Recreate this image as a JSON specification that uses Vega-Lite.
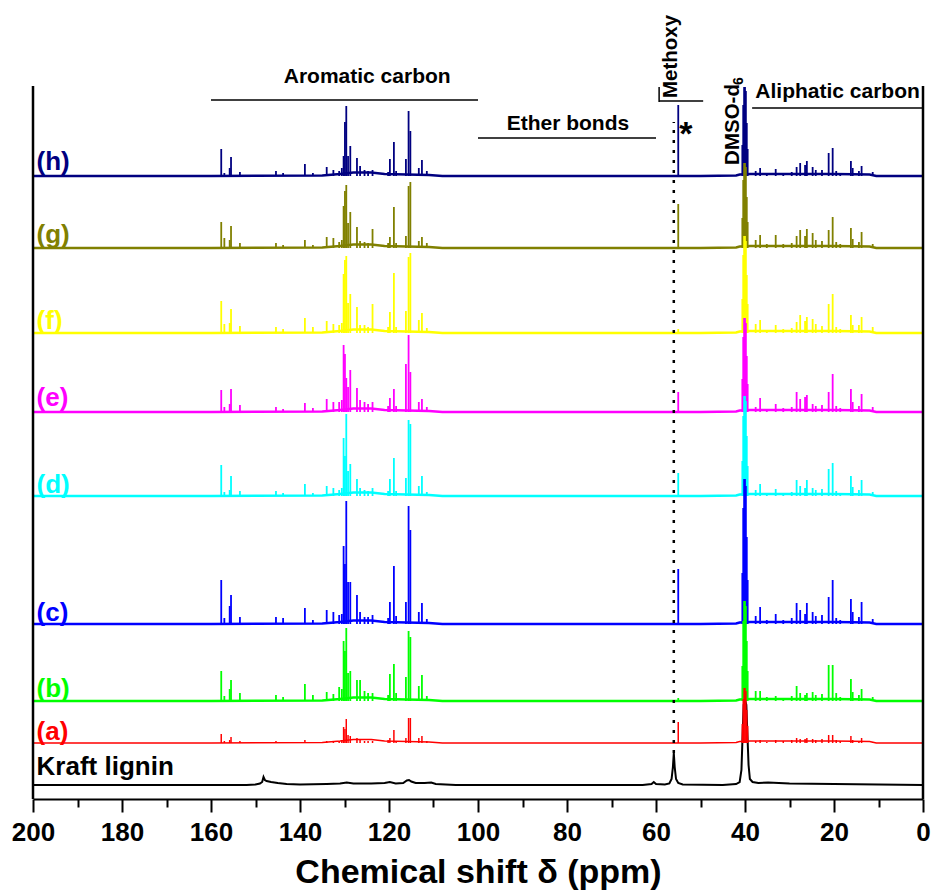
{
"$schema":"https://vega.github.io/schema/vega-lite/v6.json",
"width":890,"height":794,"autosize":"none",
"padding":{"left":33,"top":5,"right":15,"bottom":97},
"config":{"view":{"stroke":null},"font":"Liberation Sans"},
"datasets":{
"bl":[{"x":200,"i":0},{"x":160,"i":0},{"x":135,"i":0.5},{"x":131,"i":2},{"x":128,"i":3.5},{"x":124,"i":3.5},{"x":121,"i":2},{"x":116,"i":1.5},{"x":111,"i":1},{"x":108,"i":0},{"x":50,"i":0},{"x":42,"i":0.5},{"x":41.2,"i":1.5},{"x":38.8,"i":2},{"x":30,"i":2},{"x":20,"i":2},{"x":12,"i":1.5},{"x":10.5,"i":0},{"x":0,"i":0}],
"kr":[{"x":200,"i":0},{"x":152,"i":0},{"x":150,"i":0.5},{"x":149,"i":1.5},{"x":148.5,"i":3},{"x":148.2,"i":8},{"x":147.9,"i":5},{"x":147.5,"i":4},{"x":146.5,"i":3},{"x":145,"i":2},{"x":143,"i":1},{"x":140,"i":0.5},{"x":134,"i":1},{"x":131,"i":1.5},{"x":129.5,"i":2.5},{"x":128,"i":1.5},{"x":124,"i":1.5},{"x":121,"i":2},{"x":119.8,"i":3},{"x":118.5,"i":1.5},{"x":116.8,"i":2},{"x":116,"i":4.5},{"x":115.5,"i":5},{"x":115,"i":3.5},{"x":114,"i":2},{"x":112,"i":2},{"x":110.5,"i":2.5},{"x":109.5,"i":1},{"x":105,"i":0},{"x":63,"i":0},{"x":61,"i":1},{"x":60.5,"i":3},{"x":60,"i":1},{"x":58,"i":0.5},{"x":57,"i":1.5},{"x":56.5,"i":6},{"x":56.2,"i":18},{"x":56.0,"i":32},{"x":55.8,"i":18},{"x":55.5,"i":6},{"x":55,"i":2},{"x":54,"i":0.5},{"x":45,"i":0},{"x":42,"i":1},{"x":41.2,"i":3},{"x":40.8,"i":15},{"x":40.5,"i":55},{"x":40.3,"i":80},{"x":40.0,"i":85},{"x":39.7,"i":80},{"x":39.5,"i":55},{"x":39.2,"i":20},{"x":38.9,"i":6},{"x":38.3,"i":3},{"x":37,"i":2},{"x":34.8,"i":2.5},{"x":30,"i":1.5},{"x":20,"i":1},{"x":10,"i":0.5},{"x":0,"i":0}],
"pk":[
{"x":157.7,"h":27,"g":26,"f":32,"e":22,"d":31,"c":44,"b":30,"a":9},
{"x":157.0,"h":3,"g":10,"f":9,"e":5,"d":4,"c":6,"b":5,"a":2},
{"x":155.8,"h":8,"g":8,"f":10,"e":8,"d":6,"c":18,"b":12,"a":3},
{"x":155.5,"h":19,"g":22,"f":24,"e":23,"d":20,"c":29,"b":21,"a":6},
{"x":153.5,"h":4,"g":5,"f":7,"e":7,"d":5,"c":7,"b":8,"a":2},
{"x":145.4,"h":5,"g":5,"f":6,"e":5,"d":5,"c":7,"b":6,"a":2},
{"x":143.8,"h":3,"g":3,"f":4,"e":3,"d":3,"c":6,"b":4,"a":1},
{"x":138.9,"h":12,"g":8,"f":15,"e":9,"d":12,"c":16,"b":17,"a":3},
{"x":137.1,"h":3,"g":3,"f":6,"e":4,"d":3,"c":4,"b":6,"a":1},
{"x":134.0,"h":9,"g":11,"f":12,"e":13,"d":10,"c":14,"b":9,"a":2},
{"x":132.5,"h":6,"g":10,"f":9,"e":10,"d":8,"c":12,"b":7,"a":2},
{"x":131.2,"h":5,"g":6,"f":8,"e":10,"d":6,"c":9,"b":14,"a":2},
{"x":130.6,"h":8,"g":8,"f":10,"e":12,"d":8,"c":10,"b":12,"a":3},
{"x":130.2,"h":20,"g":42,"f":59,"e":67,"d":58,"c":78,"b":60,"a":16},
{"x":129.9,"h":54,"g":57,"f":73,"e":58,"d":40,"c":60,"b":50,"a":14},
{"x":129.6,"h":70,"g":63,"f":77,"e":34,"d":82,"c":123,"b":73,"a":24},
{"x":129.2,"h":20,"g":25,"f":30,"e":25,"d":25,"c":42,"b":28,"a":8},
{"x":128.7,"h":30,"g":36,"f":39,"e":42,"d":32,"c":42,"b":30,"a":7},
{"x":127.2,"h":18,"g":21,"f":26,"e":24,"d":17,"c":29,"b":21,"a":5},
{"x":126.5,"h":10,"g":7,"f":8,"e":12,"d":8,"c":12,"b":21,"a":3},
{"x":125.5,"h":6,"g":6,"f":8,"e":10,"d":6,"c":7,"b":10,"a":2},
{"x":124.7,"h":5,"g":5,"f":6,"e":8,"d":5,"c":7,"b":8,"a":2},
{"x":123.7,"h":6,"g":19,"f":29,"e":10,"d":8,"c":9,"b":8,"a":2},
{"x":120.2,"h":4,"g":5,"f":6,"e":6,"d":5,"c":6,"b":6,"a":3},
{"x":119.8,"h":17,"g":11,"f":21,"e":14,"d":17,"c":22,"b":27,"a":5},
{"x":118.9,"h":34,"g":41,"f":60,"e":23,"d":38,"c":58,"b":37,"a":13},
{"x":118.4,"h":5,"g":5,"f":6,"e":6,"d":5,"c":8,"b":8,"a":2},
{"x":116.2,"h":17,"g":12,"f":22,"e":48,"d":18,"c":22,"b":24,"a":5},
{"x":115.6,"h":65,"g":62,"f":76,"e":77,"d":76,"c":118,"b":70,"a":25},
{"x":115.2,"h":45,"g":66,"f":80,"e":40,"d":72,"c":94,"b":64,"a":25},
{"x":113.3,"h":8,"g":7,"f":13,"e":10,"d":10,"c":12,"b":15,"a":5},
{"x":112.6,"h":16,"g":11,"f":20,"e":13,"d":20,"c":21,"b":26,"a":7},
{"x":111.5,"h":5,"g":5,"f":5,"e":5,"d":4,"c":5,"b":5,"a":2},
{"x":55.0,"h":71,"g":44,"f":4,"e":20,"d":23,"c":55,"b":3,"a":21},
{"x":37.6,"h":5,"g":8,"f":9,"e":5,"d":6,"c":8,"b":10,"a":2},
{"x":36.6,"h":8,"g":13,"f":13,"e":14,"d":12,"c":17,"b":10,"a":3},
{"x":35.1,"h":3,"g":4,"f":3,"e":3,"d":3,"c":4,"b":4,"a":1},
{"x":33.1,"h":7,"g":13,"f":8,"e":8,"d":7,"c":10,"b":5,"a":3},
{"x":31.4,"h":3,"g":4,"f":4,"e":4,"d":3,"c":4,"b":3,"a":2},
{"x":29.5,"h":4,"g":5,"f":5,"e":5,"d":4,"c":6,"b":5,"a":3},
{"x":28.4,"h":9,"g":12,"f":11,"e":20,"d":16,"c":21,"b":15,"a":5},
{"x":27.6,"h":13,"g":18,"f":18,"e":13,"d":10,"c":14,"b":8,"a":4},
{"x":26.5,"h":11,"g":12,"f":12,"e":15,"d":8,"c":10,"b":6,"a":4},
{"x":26.1,"h":15,"g":19,"f":16,"e":17,"d":16,"c":21,"b":8,"a":5},
{"x":24.8,"h":9,"g":15,"f":14,"e":8,"d":8,"c":12,"b":9,"a":4},
{"x":24.1,"h":6,"g":8,"f":9,"e":6,"d":6,"c":8,"b":6,"a":3},
{"x":22.7,"h":6,"g":7,"f":7,"e":7,"d":7,"c":9,"b":7,"a":4},
{"x":21.2,"h":23,"g":18,"f":29,"e":20,"d":27,"c":27,"b":36,"a":8},
{"x":20.3,"h":28,"g":31,"f":39,"e":38,"d":33,"c":44,"b":36,"a":8},
{"x":19.5,"h":5,"g":6,"f":6,"e":6,"d":5,"c":6,"b":8,"a":3},
{"x":18.6,"h":3,"g":4,"f":4,"e":4,"d":3,"c":4,"b":4,"a":2},
{"x":16.2,"h":15,"g":20,"f":18,"e":23,"d":20,"c":25,"b":22,"a":7},
{"x":15.8,"h":8,"g":9,"f":8,"e":10,"d":9,"c":12,"b":9,"a":3},
{"x":14.4,"h":5,"g":6,"f":8,"e":6,"d":6,"c":7,"b":6,"a":2},
{"x":13.8,"h":10,"g":16,"f":16,"e":18,"d":16,"c":22,"b":12,"a":5},
{"x":11.3,"h":4,"g":4,"f":6,"e":5,"d":4,"c":5,"b":4,"a":1},
{"x":40.6,"h":31,"g":30,"f":34,"e":33,"d":35,"c":51,"b":35,"a":19},
{"x":40.4,"h":71,"g":68,"f":78,"e":75,"d":80,"c":116,"b":80,"a":44},
{"x":40.2,"h":89,"g":85,"f":97,"e":94,"d":100,"c":145,"b":100,"a":55},
{"x":40.0,"h":89,"g":85,"f":97,"e":94,"d":100,"c":145,"b":100,"a":55},
{"x":39.8,"h":85,"g":81,"f":92,"e":89,"d":95,"c":138,"b":95,"a":52},
{"x":39.6,"h":53,"g":51,"f":58,"e":56,"d":60,"c":87,"b":60,"a":33},
{"x":39.4,"h":27,"g":26,"f":29,"e":28,"d":30,"c":44,"b":30,"a":17}],
"lab":[{"s":"h","t":"(h)","x":199.2,"y":629},{"s":"g","t":"(g)","x":199.2,"y":556},{"s":"f","t":"(f)","x":199.2,"y":470},{"s":"e","t":"(e)","x":199.2,"y":393},{"s":"d","t":"(d)","x":199.2,"y":306},{"s":"c","t":"(c)","x":199.2,"y":178},{"s":"b","t":"(b)","x":199.2,"y":102},{"s":"a","t":"(a)","x":199.2,"y":59},{"s":"K","t":"Kraft lignin","x":199.2,"y":24}],
"ann":[{"t":"Aromatic carbon","x":124.9,"y":716},{"t":"Ether bonds","x":79.8,"y":669},{"t":"Aliphatic carbon","x":19.2,"y":701}],
"rot":[{"t":"Methoxy","x":55.3,"y":742.5},{"t":"DMSO-d","x":41.4,"y":674.5}],
"sub":[{"t":"6","x":40.45,"y":718}],
"star":[{"t":"*","x":53.3,"y":654}],
"seg":[{"x":160,"x2":100,"y":699,"y2":699},{"x":100,"x2":60,"y":661,"y2":661},{"x":59.3,"x2":49.4,"y":698,"y2":698},{"x":59.3,"x2":59.3,"y":697,"y2":712},{"x":38.4,"x2":0,"y":691,"y2":691}],
"frame":[{"x":200,"x2":200,"y":0,"y2":713},{"x":0,"x2":0,"y":0,"y2":713}],
"dot":[{"x":56,"x2":56,"y":46,"y2":677}]
},
"layer":[
{"layer":[
{"data":{"name":"bl"},"mark":{"type":"line","strokeWidth":2.5},"encoding":{
"x":{"field":"x","type":"quantitative","scale":{"domain":[0,200],"reverse":true,"nice":false,"zero":false},
"axis":{"values":[0,10,20,30,40,50,60,70,80,90,100,110,120,130,140,150,160,170,180,190,200],"labelExpr":"datum.value % 20 === 0 ? datum.label : ''","tickSize":{"condition":{"test":"datum.value % 20 === 0","value":13},"value":8},"tickWidth":2,"tickColor":"black","domainColor":"black","domainWidth":2,"labelFont":"Liberation Sans","labelFontSize":26,"labelFontWeight":"bold","labelColor":"black","labelPadding":7,"labelFlush":false,"labelOverlap":false,"grid":false,"title":"Chemical shift δ (ppm)","titleFont":"Liberation Sans","titleFontSize":34,"titleFontWeight":"bold","titleColor":"black","titlePadding":10}},
"y":{"field":"i","type":"quantitative","scale":{"domain":[-623,171],"nice":false,"zero":false},"axis":null},
"color":{"datum":"h","type":"nominal","scale":{"domain":["h","g","f","e","d","c","b","a","K"],"range":["#000080","#808000","#FFFF00","#FF00FF","#00FFFF","#0000FF","#00FF00","#FF0000","#000000"]},"legend":null}}},
{"data":{"name":"pk"},"mark":{"type":"rule","strokeWidth":1.8},"encoding":{
"x":{"field":"x","type":"quantitative","scale":{"domain":[0,200],"reverse":true,"nice":false,"zero":false}},
"y":{"field":"h","type":"quantitative","scale":{"domain":[-623,171],"nice":false,"zero":false},"axis":null},"y2":{"datum":0},
"color":{"datum":"h","type":"nominal","legend":null}}}]},
{"layer":[
{"data":{"name":"bl"},"mark":{"type":"line","strokeWidth":2.5},"encoding":{
"x":{"field":"x","type":"quantitative","scale":{"domain":[0,200],"reverse":true,"nice":false,"zero":false}},
"y":{"field":"i","type":"quantitative","scale":{"domain":[-551,243],"nice":false,"zero":false},"axis":null},
"color":{"datum":"g","type":"nominal","legend":null}}},
{"data":{"name":"pk"},"mark":{"type":"rule","strokeWidth":1.8},"encoding":{
"x":{"field":"x","type":"quantitative","scale":{"domain":[0,200],"reverse":true,"nice":false,"zero":false}},
"y":{"field":"g","type":"quantitative","scale":{"domain":[-551,243],"nice":false,"zero":false},"axis":null},"y2":{"datum":0},
"color":{"datum":"g","type":"nominal","legend":null}}}]},
{"layer":[
{"data":{"name":"bl"},"mark":{"type":"line","strokeWidth":2.5},"encoding":{
"x":{"field":"x","type":"quantitative","scale":{"domain":[0,200],"reverse":true,"nice":false,"zero":false}},
"y":{"field":"i","type":"quantitative","scale":{"domain":[-466,328],"nice":false,"zero":false},"axis":null},
"color":{"datum":"f","type":"nominal","legend":null}}},
{"data":{"name":"pk"},"mark":{"type":"rule","strokeWidth":1.8},"encoding":{
"x":{"field":"x","type":"quantitative","scale":{"domain":[0,200],"reverse":true,"nice":false,"zero":false}},
"y":{"field":"f","type":"quantitative","scale":{"domain":[-466,328],"nice":false,"zero":false},"axis":null},"y2":{"datum":0},
"color":{"datum":"f","type":"nominal","legend":null}}}]},
{"layer":[
{"data":{"name":"bl"},"mark":{"type":"line","strokeWidth":2.5},"encoding":{
"x":{"field":"x","type":"quantitative","scale":{"domain":[0,200],"reverse":true,"nice":false,"zero":false}},
"y":{"field":"i","type":"quantitative","scale":{"domain":[-387,407],"nice":false,"zero":false},"axis":null},
"color":{"datum":"e","type":"nominal","legend":null}}},
{"data":{"name":"pk"},"mark":{"type":"rule","strokeWidth":1.8},"encoding":{
"x":{"field":"x","type":"quantitative","scale":{"domain":[0,200],"reverse":true,"nice":false,"zero":false}},
"y":{"field":"e","type":"quantitative","scale":{"domain":[-387,407],"nice":false,"zero":false},"axis":null},"y2":{"datum":0},
"color":{"datum":"e","type":"nominal","legend":null}}}]},
{"layer":[
{"data":{"name":"bl"},"mark":{"type":"line","strokeWidth":2.5},"encoding":{
"x":{"field":"x","type":"quantitative","scale":{"domain":[0,200],"reverse":true,"nice":false,"zero":false}},
"y":{"field":"i","type":"quantitative","scale":{"domain":[-303,491],"nice":false,"zero":false},"axis":null},
"color":{"datum":"d","type":"nominal","legend":null}}},
{"data":{"name":"pk"},"mark":{"type":"rule","strokeWidth":1.8},"encoding":{
"x":{"field":"x","type":"quantitative","scale":{"domain":[0,200],"reverse":true,"nice":false,"zero":false}},
"y":{"field":"d","type":"quantitative","scale":{"domain":[-303,491],"nice":false,"zero":false},"axis":null},"y2":{"datum":0},
"color":{"datum":"d","type":"nominal","legend":null}}}]},
{"layer":[
{"data":{"name":"bl"},"mark":{"type":"line","strokeWidth":2.5},"encoding":{
"x":{"field":"x","type":"quantitative","scale":{"domain":[0,200],"reverse":true,"nice":false,"zero":false}},
"y":{"field":"i","type":"quantitative","scale":{"domain":[-175,619],"nice":false,"zero":false},"axis":null},
"color":{"datum":"c","type":"nominal","legend":null}}},
{"data":{"name":"pk"},"mark":{"type":"rule","strokeWidth":1.8},"encoding":{
"x":{"field":"x","type":"quantitative","scale":{"domain":[0,200],"reverse":true,"nice":false,"zero":false}},
"y":{"field":"c","type":"quantitative","scale":{"domain":[-175,619],"nice":false,"zero":false},"axis":null},"y2":{"datum":0},
"color":{"datum":"c","type":"nominal","legend":null}}}]},
{"layer":[
{"data":{"name":"bl"},"mark":{"type":"line","strokeWidth":2.5},"encoding":{
"x":{"field":"x","type":"quantitative","scale":{"domain":[0,200],"reverse":true,"nice":false,"zero":false}},
"y":{"field":"i","type":"quantitative","scale":{"domain":[-98,696],"nice":false,"zero":false},"axis":null},
"color":{"datum":"b","type":"nominal","legend":null}}},
{"data":{"name":"pk"},"mark":{"type":"rule","strokeWidth":1.8},"encoding":{
"x":{"field":"x","type":"quantitative","scale":{"domain":[0,200],"reverse":true,"nice":false,"zero":false}},
"y":{"field":"b","type":"quantitative","scale":{"domain":[-98,696],"nice":false,"zero":false},"axis":null},"y2":{"datum":0},
"color":{"datum":"b","type":"nominal","legend":null}}}]},
{"data":{"name":"kr"},"mark":{"type":"line","strokeWidth":2},"encoding":{
"x":{"field":"x","type":"quantitative","scale":{"domain":[0,200],"reverse":true,"nice":false,"zero":false}},
"y":{"field":"i","type":"quantitative","scale":{"domain":[-14,780],"nice":false,"zero":false},"axis":null},
"color":{"datum":"K","type":"nominal","legend":null}}},
{"layer":[
{"data":{"name":"bl"},"mark":{"type":"line","strokeWidth":1.6},"encoding":{
"x":{"field":"x","type":"quantitative","scale":{"domain":[0,200],"reverse":true,"nice":false,"zero":false}},
"y":{"field":"i","type":"quantitative","scale":{"domain":[-56,738],"nice":false,"zero":false},"axis":null},
"color":{"datum":"a","type":"nominal","legend":null}}},
{"data":{"name":"pk"},"mark":{"type":"rule","strokeWidth":1.5},"encoding":{
"x":{"field":"x","type":"quantitative","scale":{"domain":[0,200],"reverse":true,"nice":false,"zero":false}},
"y":{"field":"a","type":"quantitative","scale":{"domain":[-56,738],"nice":false,"zero":false},"axis":null},"y2":{"datum":0},
"color":{"datum":"a","type":"nominal","legend":null}}}]},
{"layer":[
{"data":{"name":"frame"},"mark":{"type":"rule","strokeWidth":2.5,"color":"black"},"encoding":{
"x":{"field":"x","type":"quantitative","scale":{"domain":[0,200],"reverse":true,"nice":false,"zero":false}},"x2":{"field":"x2"},
"y":{"field":"y","type":"quantitative","scale":{"domain":[0,794],"nice":false,"zero":false},"axis":null},"y2":{"field":"y2"}}},
{"data":{"name":"seg"},"mark":{"type":"rule","strokeWidth":1.5,"color":"black"},"encoding":{
"x":{"field":"x","type":"quantitative","scale":{"domain":[0,200],"reverse":true,"nice":false,"zero":false}},"x2":{"field":"x2"},
"y":{"field":"y","type":"quantitative","scale":{"domain":[0,794],"nice":false,"zero":false},"axis":null},"y2":{"field":"y2"}}},
{"data":{"name":"dot"},"mark":{"type":"rule","strokeWidth":2.5,"color":"black","strokeDash":[3,7]},"encoding":{
"x":{"field":"x","type":"quantitative","scale":{"domain":[0,200],"reverse":true,"nice":false,"zero":false}},"x2":{"field":"x2"},
"y":{"field":"y","type":"quantitative","scale":{"domain":[0,794],"nice":false,"zero":false},"axis":null},"y2":{"field":"y2"}}},
{"data":{"name":"lab"},"mark":{"type":"text","align":"left","baseline":"alphabetic","fontSize":26,"fontWeight":"bold","font":"Liberation Sans"},"encoding":{
"x":{"field":"x","type":"quantitative","scale":{"domain":[0,200],"reverse":true,"nice":false,"zero":false}},
"y":{"field":"y","type":"quantitative","scale":{"domain":[0,794],"nice":false,"zero":false},"axis":null},
"text":{"field":"t"},"color":{"field":"s","type":"nominal","legend":null}}},
{"data":{"name":"ann"},"mark":{"type":"text","align":"center","baseline":"alphabetic","fontSize":21,"fontWeight":"bold","font":"Liberation Sans","color":"black"},"encoding":{
"x":{"field":"x","type":"quantitative","scale":{"domain":[0,200],"reverse":true,"nice":false,"zero":false}},
"y":{"field":"y","type":"quantitative","scale":{"domain":[0,794],"nice":false,"zero":false},"axis":null},
"text":{"field":"t"}}},
{"data":{"name":"rot"},"mark":{"type":"text","align":"center","baseline":"alphabetic","angle":270,"fontSize":20.5,"fontWeight":"bold","font":"Liberation Sans","color":"black"},"encoding":{
"x":{"field":"x","type":"quantitative","scale":{"domain":[0,200],"reverse":true,"nice":false,"zero":false}},
"y":{"field":"y","type":"quantitative","scale":{"domain":[0,794],"nice":false,"zero":false},"axis":null},
"text":{"field":"t"}}},
{"data":{"name":"sub"},"mark":{"type":"text","align":"center","baseline":"alphabetic","angle":270,"fontSize":14,"fontWeight":"bold","font":"Liberation Sans","color":"black"},"encoding":{
"x":{"field":"x","type":"quantitative","scale":{"domain":[0,200],"reverse":true,"nice":false,"zero":false}},
"y":{"field":"y","type":"quantitative","scale":{"domain":[0,794],"nice":false,"zero":false},"axis":null},
"text":{"field":"t"}}},
{"data":{"name":"star"},"mark":{"type":"text","align":"center","baseline":"alphabetic","fontSize":34,"fontWeight":"bold","font":"Liberation Sans","color":"black"},"encoding":{
"x":{"field":"x","type":"quantitative","scale":{"domain":[0,200],"reverse":true,"nice":false,"zero":false}},
"y":{"field":"y","type":"quantitative","scale":{"domain":[0,794],"nice":false,"zero":false},"axis":null},
"text":{"field":"t"}}}
]}
],
"resolve":{"scale":{"y":"independent"}}
}
